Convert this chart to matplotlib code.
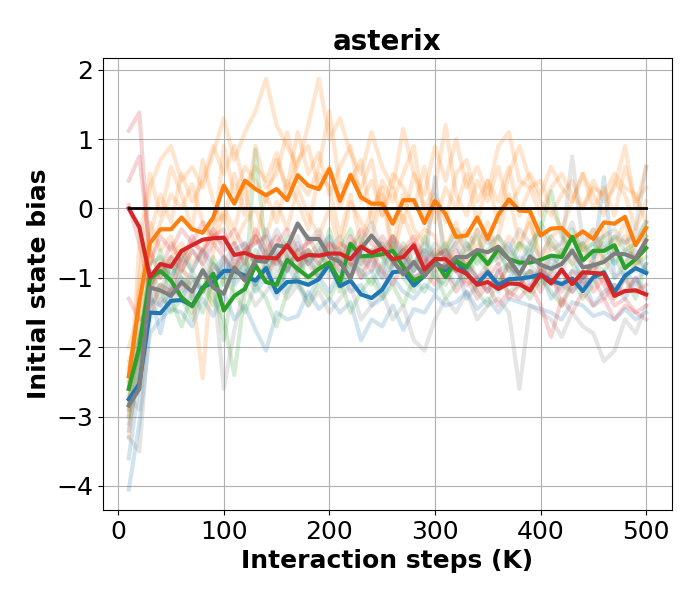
import numpy as np
import matplotlib
matplotlib.use('Agg')
import matplotlib.pyplot as plt

steps = np.arange(10, 510, 10)

# mean curves (bold)
blue = [-2.75, -2.53, -1.50, -1.51, -1.33, -1.32, -1.40, -1.14, -1.06, -0.90,
        -0.90, -0.97, -1.04, -0.86, -1.21, -1.06, -1.05, -1.10, -1.02, -0.80,
        -1.12, -1.04, -1.24, -1.29, -1.17, -0.92, -0.90, -1.11, -0.97, -0.77,
        -0.89, -0.75, -0.94, -1.09, -0.92, -1.10, -1.02, -1.01, -0.99, -0.95,
        -1.04, -1.09, -1.01, -1.19, -0.99, -0.92, -1.21, -0.97, -0.86, -0.93]
orange = [-2.42, -1.35, -0.50, -0.30, -0.30, -0.13, -0.30, -0.35, -0.13, 0.33,
          0.07, 0.40, 0.28, 0.19, 0.28, 0.12, 0.48, 0.33, 0.28, 0.57,
          0.11, 0.48, 0.16, 0.07, 0.07, -0.22, 0.12, 0.12, -0.21, 0.11,
          -0.08, -0.41, -0.39, -0.13, -0.44, -0.09, 0.13, -0.03, -0.04, -0.39,
          -0.29, -0.28, -0.44, -0.33, -0.44, -0.20, -0.22, -0.12, -0.53, -0.28]
green = [-2.60, -2.00, -1.01, -0.90, -1.04, -1.28, -1.41, -1.16, -0.94, -1.47,
         -1.26, -1.16, -0.82, -1.06, -1.10, -0.74, -0.87, -0.99, -0.87, -0.78,
         -1.06, -0.51, -0.69, -0.68, -0.66, -0.61, -0.84, -1.04, -0.97, -0.75,
         -0.99, -0.75, -0.85, -0.63, -0.80, -0.58, -0.73, -0.78, -0.78, -0.74,
         -0.68, -0.70, -0.41, -0.75, -0.61, -0.61, -0.53, -0.86, -0.73, -0.57]
red = [0.00, -0.27, -0.99, -0.80, -0.84, -0.61, -0.53, -0.45, -0.43, -0.42,
       -0.67, -0.64, -0.70, -0.71, -0.72, -0.53, -0.74, -0.67, -0.68, -0.65,
       -0.65, -0.73, -0.55, -0.64, -0.58, -0.73, -0.70, -0.53, -0.88, -0.73,
       -0.73, -0.87, -0.94, -1.10, -1.06, -1.16, -1.08, -1.09, -1.18, -0.95,
       -1.08, -0.88, -1.09, -0.92, -0.93, -0.94, -1.26, -1.19, -1.18, -1.24]
gray = [-2.84, -2.60, -1.14, -1.18, -1.26, -1.06, -1.20, -0.89, -1.14, -1.23,
        -0.85, -1.04, -0.75, -0.77, -0.53, -0.56, -0.22, -0.44, -0.44, -0.70,
        -0.77, -1.01, -0.58, -0.39, -0.58, -0.75, -0.95, -0.77, -0.97, -0.80,
        -0.85, -0.70, -0.70, -0.60, -0.63, -0.55, -0.73, -0.95, -0.69, -0.81,
        -0.87, -0.80, -0.61, -0.85, -0.82, -0.77, -0.65, -0.66, -0.72, -0.46]

# single runs (faint)
orange_runs = [
    [-2.9, -1.0, 0.3, 0.7, 0.9, 0.4, 0.6, 0.3, 0.8, 1.3,
     0.7, 1.1, 1.4, 1.87, 1.2, 0.9, 0.6, 1.2, 1.87, 1.0,
     1.3, 0.8, 0.5, 1.1, 0.6, 0.3, 1.15, 0.5, 0.2, 0.9,
     0.4, 1.0, 0.3, 0.6, 0.2, 0.9, 1.1, 0.4, 0.3, -0.1,
     0.3, 0.5, 0.2, 0.0, 0.4, 0.1, 0.3, 0.9, 0.0, 0.6],
    [-3.3, -2.0, -0.8, -0.2, 0.2, 0.0, 0.35, -0.2, -0.5, 0.9,
     0.2, 0.6, 0.4, 0.1, 0.7, 0.3, 1.1, 0.5, 0.8, 0.2,
     0.6, 0.9, 0.1, 0.4, -0.1, 0.3, -0.2, 0.5, 0.0, 0.3,
     1.2, 0.2, -0.1, 0.4, 0.1, 0.6, 0.0, 0.3, 0.5, 0.2,
     0.6, 0.3, 0.1, 0.5, 0.2, -0.1, 0.4, 0.2, -0.3, 0.1],
    [-2.0, -1.5, -0.2, -0.6, -0.4, -0.8, -1.2, -2.45, -0.6, 0.0,
     -0.3, 0.3, -0.5, 0.2, -0.2, 0.4, 0.1, -0.3, 0.5, 0.3,
     -0.4, 0.2, -0.5, 0.0, 0.3, -0.6, 0.2, -0.3, -0.5, 0.1,
     -0.6, -0.2, -0.8, -0.3, -0.9, -0.4, 0.2, -0.5, -0.2, -0.7,
     -0.4, -0.3, -0.8, -0.5, -0.9, -0.3, -0.5, -0.2, -0.8, -0.4],
    [-3.0, -0.5, 0.5, -0.1, 0.6, 0.2, -0.3, 0.7, 0.1, -0.2,
     0.5, -0.1, 0.9, 0.3, 0.5, 1.1, 0.4, 0.2, 0.6, 1.4,
     0.3, 0.4, 0.7, -0.2, 0.4, 0.1, 0.5, 0.9, -0.1, 0.2,
     -0.2, 0.5, 0.7, 0.1, 0.4, -0.2, 0.5, 0.9, 0.4, 0.1,
     -0.1, 0.2, 0.4, 0.0, 0.3, 0.2, 0.5, 0.3, 0.2, -0.2],
    [-2.2, -1.8, -1.1, -0.9, -0.7, -0.5, -0.8, -0.6, -0.2, -0.1,
     -0.5, -0.2, 0.0, -0.4, 0.1, -0.3, 0.3, -0.1, -0.4, 0.0,
     -0.6, 0.1, -0.2, -0.4, 0.2, -0.7, -0.1, -0.5, -0.3, -0.4,
     -0.8, -0.5, -0.3, -0.6, -0.2, -0.7, -0.4, -0.6, -0.1, -0.9,
     -0.5, -0.7, -0.4, -0.6, -0.3, -0.8, -0.6, -0.4, -0.9, -0.5],
    [-2.6, -1.2, -0.4, 0.2, -0.2, 0.5, 0.1, 0.4, 0.9, 0.5,
     0.9, 0.3, 0.6, 0.4, 0.8, 0.2, 0.7, 0.9, 0.3, 0.6,
     0.0, 0.5, 0.3, 0.7, -0.1, 0.5, 0.3, 0.0, 0.6, -0.2,
     0.3, 0.0, 0.5, -0.2, 0.4, 0.1, 0.6, -0.1, 0.3, 0.4,
     0.0, -0.3, 0.1, 0.5, 0.0, 0.3, -0.1, 0.6, 0.1, 0.3],
]
blue_runs = [
    [-4.05, -3.1, -1.8, -1.6, -1.45, -1.5, -1.7, -1.3, -1.55, -1.2,
     -1.6, -1.4, -1.75, -2.05, -1.5, -1.6, -1.55, -1.2, -1.45, -1.3,
     -1.5, -1.35, -1.9, -1.6, -1.7, -1.4, -1.75, -1.45, -1.5, -1.25,
     -1.4, -1.35, -1.2, -1.45, -1.3, -1.5, -1.3, -1.35, -1.4, -1.45,
     -1.5, -1.6, -1.35, -1.4, -1.55, -1.5, -1.6, -1.45, -1.6, -1.5],
    [-3.6, -2.5, -1.2, -1.8, -1.1, -1.3, -1.0, -1.2, -0.9, -0.7,
     -1.0, -0.8, -1.1, -0.9, -0.6, -1.2, -0.9, -0.7, -1.0, -0.8,
     -1.1, -0.6, -1.0, -0.9, -1.2, -0.8, -0.7, -1.0, -0.9, 0.45,
     -0.9, -1.1, -0.8, -1.0, -1.2, -0.9, -0.8, -1.1, -0.9, -1.0,
     -0.8, -1.1, -0.9, -1.0, -0.8, 0.45, -1.0, -0.9, -1.1, -0.8],
    [-2.6, -1.9, -1.3, -1.4, -1.2, -1.0, -1.3, -0.9, -1.1, -0.8,
     -1.1, -0.9, -1.2, -1.0, -1.3, -0.8, -1.1, -1.3, -1.0, -1.2,
     -0.9, -1.2, -1.1, -1.4, -1.3, -1.0, -1.2, -1.3, -1.1, -1.2,
     -1.0, -0.8, -1.3, -1.1, -0.9, -1.2, -1.0, -0.8, -1.1, -0.9,
     -1.3, -1.1, -1.2, -1.0, -1.4, -1.2, -1.1, -1.3, -1.0, -1.2],
    [-3.2, -2.2, -1.1, -0.8, -1.0, -0.7, -0.9, -0.6, -0.8, -1.0,
     -0.6, -0.5, -0.8, -0.3, -0.7, -0.9, -0.5, -0.8, -0.6, -0.4,
     -0.8, -0.9, -0.6, -0.8, -1.0, -0.5, -0.7, -0.9, -0.6, -0.8,
     -0.7, -0.5, -0.9, -0.6, -0.8, -0.7, -0.5, -0.8, -0.6, -0.9,
     -0.7, -0.8, -0.6, -1.1, -0.7, -0.5, -0.8, -0.6, -0.7, -0.9],
]
green_runs = [
    [-2.3, -1.7, -0.9, -1.2, -0.8, -1.0, -1.1, -0.9, -1.3, -1.6,
     -2.4, -1.2, 0.85, -0.7, -0.8, -0.6, -1.0, -0.7, -0.5, -0.9,
     -0.6, -0.3, -0.8, -0.6, -0.7, -0.9, -0.5, -0.8, -0.6, -0.7,
     -0.5, -0.9, -0.6, -0.4, -0.8, -0.6, -0.9, -0.5, -0.7, -0.3,
     0.25, -0.4, -0.6, -0.5, -0.7, -0.4, -0.6, -0.8, -0.5, -0.4],
    [-3.0, -2.2, -1.4, -1.2, -1.5, -1.3, -1.6, -1.1, -1.4, -1.0,
     -1.2, -1.5, -1.1, -1.3, -1.7, -1.2, -1.0, -1.4, -1.1, -1.3,
     -1.0, -1.5, -1.2, -1.0, -1.3, -1.1, -1.4, -1.0, -1.2, -0.9,
     -1.3, -1.1, -0.9, -1.2, -1.4, -1.0, -1.2, -1.1, -1.3, -1.0,
     -1.2, -1.4, -1.0, -1.3, -1.1, -0.9, -1.2, -1.0, -1.3, -0.8],
    [-2.5, -2.1, -0.8, -0.7, -1.0, -0.6, -0.9, -1.2, -0.7, -1.1,
     -0.8, -1.0, -0.6, -0.9, -0.7, -0.4, -0.8, -0.6, -1.0, -0.3,
     -0.8, -0.6, -0.4, -0.7, -0.5, -0.8, -0.6, -0.9, -0.4, -0.7,
     -0.6, -0.3, -0.5, -0.8, -0.6, -0.4, -0.7, -0.5, -0.6, -0.2,
     -0.5, -0.7, -0.3, -0.6, -0.5, -0.7, -0.4, -0.6, -0.5, -0.2],
    [-2.8, -1.9, -1.2, -0.6, -1.3, -1.7, -1.2, -1.5, -1.0, -1.9,
     -1.0, -0.7, -1.1, -0.8, -1.2, -0.9, -0.6, -1.1, -0.8, -0.6,
     -1.2, -0.8, -0.9, -1.1, -0.8, -0.5, -1.0, -1.2, -0.8, -1.0,
     -1.1, -0.8, -1.0, -0.7, -0.9, -1.1, -0.8, -1.0, -0.9, -1.1,
     -0.9, -0.6, -0.8, -1.0, -0.8, -0.9, -0.7, -1.0, -0.8, -0.7],
]
red_runs = [
    [1.12, 1.38, -0.8, -0.4, -0.6, -0.3, -0.5, -0.2, -0.4, -0.5,
     -0.3, -0.6, -0.4, -0.7, -0.5, -0.3, -0.6, -0.5, -0.4, -0.7,
     -0.5, -0.6, -0.3, -0.5, -0.7, -0.4, -0.6, -0.5, -0.8, -0.6,
     -0.7, -0.9, -0.8, -1.0, -0.9, -1.1, -0.8, -1.0, -1.2, -0.9,
     -1.0, -1.2, -0.9, -1.1, -1.0, -1.3, -1.1, -1.2, -1.0, -1.3],
    [0.4, 0.75, -0.6, -1.0, -0.7, -0.9, -0.6, -0.8, -0.5, -0.7,
     -0.9, -0.6, -0.8, -1.0, -0.7, -0.9, -0.6, -0.8, -1.0, -0.7,
     -0.9, -0.8, -1.0, -0.7, -0.9, -1.1, -0.8, -1.0, -0.9, -1.1,
     -0.9, -1.2, -1.0, -1.3, -1.1, -1.4, -1.2, -1.3, -1.1, -1.4,
     -1.85, -1.3, -1.5, -1.2, -1.4, -1.3, -1.6, -1.4, -1.5, -1.6],
    [-1.3, -1.6, -1.5, -1.1, -1.2, -0.7, -0.5, -0.6, -0.4, -0.3,
     -0.8, -0.6, -0.5, -0.4, -0.8, -0.5, -0.7, -0.6, -0.8, -0.5,
     -0.6, -0.8, -0.5, -0.7, -0.4, -0.6, -0.8, -0.5, -0.9, -0.7,
     -0.6, -0.9, -1.1, -1.0, -1.2, -0.9, -1.1, -1.0, -1.2, -0.8,
     -1.1, -0.9, -1.2, -1.0, -0.8, -1.1, -1.4, -1.3, -1.5, -1.4],
    [0.05, -0.5, -1.2, -0.9, -0.5, -0.8, -0.4, -0.7, -0.3, -0.6,
     -0.5, -0.8, -0.3, -0.6, -0.4, -0.7, -0.9, -0.4, -0.7, -0.5,
     -0.8, -0.4, -0.7, -0.9, -0.5, -0.8, -0.6, -0.4, -0.7, -0.9,
     -0.8, -0.6, -0.9, -1.2, -1.0, -0.8, -1.3, -1.1, -0.9, -1.2,
     -0.9, -1.4, -1.1, -0.9, -1.2, -1.0, -1.3, -1.0, -1.2, -1.1],
]
gray_runs = [
    [-3.3, -3.5, -1.6, -1.3, -1.4, -1.1, -1.5, -1.2, -1.0, -2.6,
     -1.75, -1.1, -1.4, -1.2, -1.0, -1.3, -1.1, -1.4, -1.2, -1.5,
     -1.3, -1.1, -1.6, -1.4, -1.2, -1.6, -1.4, -1.9, -2.05, -1.6,
     -1.3, -1.5, -1.2, -1.6, -1.4, -1.3, -1.5, -2.6, -1.4, -1.5,
     -1.6, -1.85, -1.5, -1.7, -1.8, -2.2, -2.05, -1.6, -1.8, -1.4],
    [-2.9, -2.0, -0.9, -1.0, -0.7, -0.9, -0.6, -0.8, -1.1, -0.7,
     -0.9, -0.5, -0.8, -0.6, -0.9, -0.7, -0.4, -0.8, -0.6, -0.9,
     -0.7, -0.5, -0.8, -0.6, -0.9, -0.4, -0.7, -0.8, -0.5, -0.7,
     -0.6, -0.8, -0.5, -0.7, -0.4, -0.8, -0.6, -0.3, -0.5, -0.7,
     -0.4, -0.6, 0.75, -0.5, -0.3, -0.6, -0.4, -0.5, -0.3, 0.6],
    [-2.7, -2.9, -1.3, -1.1, -1.2, -0.9, -1.0, -1.2, -0.8, -1.0,
     -0.7, -0.9, -1.1, -0.8, -1.0, -0.7, -0.9, -0.6, -0.8, -1.0,
     -0.8, -0.6, -0.9, -0.7, -1.0, -0.8, -0.6, -0.9, -0.7, -1.0,
     -0.8, -0.9, -0.7, -1.0, -0.8, -0.6, -0.9, -0.7, -0.8, -1.0,
     -0.7, -0.9, -0.6, -0.8, -0.9, -0.7, -1.0, -0.8, -0.6, -0.9],
    [-3.1, -2.4, -1.0, -1.4, -0.8, -1.2, -0.9, -0.6, -1.0, -0.8,
     -0.5, -0.8, -0.4, -0.7, -0.3, -0.6, -0.2, -0.5, -0.3, -0.6,
     -0.4, -0.8, -0.5, -0.2, -0.6, -0.4, -0.9, -0.6, -0.8, -0.5,
     -0.7, -0.4, -0.6, -0.3, -0.5, -0.4, -0.6, -0.8, -0.5, -0.3,
     -0.6, -0.5, -0.2, -0.7, -0.5, -0.4, -0.3, -0.5, -0.4, -0.2],
]

groups = [
    (blue, blue_runs, 'tab:blue'),
    (orange, orange_runs, 'tab:orange'),
    (green, green_runs, 'tab:green'),
    (gray, gray_runs, 'tab:gray'),
    (red, red_runs, 'tab:red'),
]

fig = plt.figure(figsize=(7, 6), dpi=100)
ax = fig.add_axes([0.147, 0.15, 0.813, 0.753])

for mean_curve, runs, col in groups:
    for r in runs:
        ax.plot(steps, r, color=col, alpha=0.2, lw=3)
for mean_curve, runs, col in groups:
    ax.plot(steps, mean_curve, color=col, lw=3)

ax.plot(steps, np.zeros(len(steps)), color='k', lw=2)

ax.grid()
ax.set_title('asterix', fontsize=20, fontweight='bold')
ax.set_xlabel('Interaction steps (K)', fontsize=18, fontweight='bold')
ax.set_ylabel('Initial state bias', fontsize=18, fontweight='bold')
ax.tick_params(labelsize=18)
ax.set_xticks([0, 100, 200, 300, 400, 500])

fig.savefig('out.png', dpi=100)
